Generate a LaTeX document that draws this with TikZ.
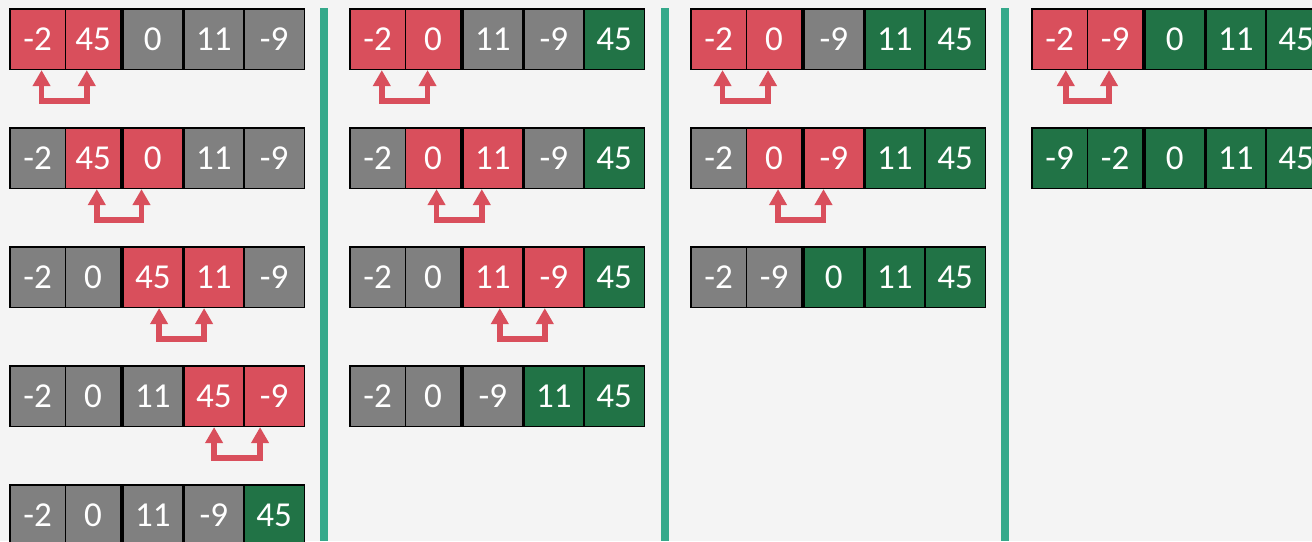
\documentclass[tikz,border=0pt]{standalone}
\usepackage{fontspec}
\setmainfont{Carlito}
\usetikzlibrary{arrows.meta}
\definecolor{cred}{HTML}{D94F5C}
\definecolor{cgray}{HTML}{808080}
\definecolor{cgreen}{HTML}{217346}
\definecolor{cteal}{HTML}{35A98B}
\definecolor{bg}{HTML}{F4F4F4}
\tikzset{
  cell/.style={draw=black, line width=1.6pt, inner sep=0pt, minimum height=60.5pt,
    text=white, font=\fontsize{35}{40}\selectfont, text height=22.4pt, text depth=0pt,
    anchor=north west},
  swaparrow/.style={draw=cred, line width=5.5pt,
    {Triangle[length=16pt,width=17pt]}-{Triangle[length=16pt,width=17pt]}},
  sepbar/.style={fill=cteal, draw=none}
}
\newcommand{\mkrow}[4]{%
  \foreach \cc/\tt [count=\i] in {#4} {
    \pgfmathsetmacro{\cellx}{{0,55.5,113,174,234}[\i-1]}
    \pgfmathsetmacro{\cellw}{{55.5,55.5,60,60,60.5}[\i-1]}
    \node[cell, fill=\cc, minimum width=\cellw pt] (#1-\i) at (#2+\cellx, #3) {\tt};
  }}
\newcommand{\swp}[4]{%
  \draw[swaparrow] ([xshift=#2pt]#1.south) -- ++(0,31) -| ([xshift=#4pt]#3.south);}
\begin{document}
\begin{tikzpicture}[x=1pt,y=-1pt]
  \useasboundingbox (0,0) rectangle (1312,541);
  \fill[bg] (0,0) rectangle (1312,541);
  % separators
  \fill[sepbar] (320,8) rectangle (328,541);
  \fill[sepbar] (661,8) rectangle (669,541);
  \fill[sepbar] (1001,8) rectangle (1009,541);
  % column 1
  \mkrow{a1}{9}{8}{cred/-2,cred/45,cgray/0,cgray/11,cgray/-9}
  \mkrow{a2}{9}{127}{cgray/-2,cred/45,cred/0,cgray/11,cgray/-9}
  \mkrow{a3}{9}{246}{cgray/-2,cgray/0,cred/45,cred/11,cgray/-9}
  \mkrow{a4}{9}{365}{cgray/-2,cgray/0,cgray/11,cred/45,cred/-9}
  \mkrow{a5}{9}{484}{cgray/-2,cgray/0,cgray/11,cgray/-9,cgreen/45}
  % column 2
  \mkrow{b1}{349}{8}{cred/-2,cred/0,cgray/11,cgray/-9,cgreen/45}
  \mkrow{b2}{349}{127}{cgray/-2,cred/0,cred/11,cgray/-9,cgreen/45}
  \mkrow{b3}{349}{246}{cgray/-2,cgray/0,cred/11,cred/-9,cgreen/45}
  \mkrow{b4}{349}{365}{cgray/-2,cgray/0,cgray/-9,cgreen/11,cgreen/45}
  % column 3
  \mkrow{c1}{690}{8}{cred/-2,cred/0,cgray/-9,cgreen/11,cgreen/45}
  \mkrow{c2}{690}{127}{cgray/-2,cred/0,cred/-9,cgreen/11,cgreen/45}
  \mkrow{c3}{690}{246}{cgray/-2,cgray/-9,cgreen/0,cgreen/11,cgreen/45}
  % column 4
  \mkrow{d1}{1031}{8}{cred/-2,cred/-9,cgreen/0,cgreen/11,cgreen/45}
  \mkrow{d2}{1031}{127}{cgreen/-9,cgreen/-2,cgreen/0,cgreen/11,cgreen/45}
  % swap arrows
  \swp{a1-1}{4}{a1-2}{-6.25}
  \swp{a2-2}{3.75}{a2-3}{-11.3}
  \swp{a3-3}{6.3}{a3-4}{-9.7}
  \swp{a4-4}{0.3}{a4-5}{-14}
  \swp{b1-1}{4.25}{b1-2}{-5.5}
  \swp{b2-2}{3.5}{b2-3}{-11}
  \swp{b3-3}{7}{b3-4}{-9}
  \swp{c1-1}{4}{c1-2}{-6}
  \swp{c2-2}{4}{c2-3}{-10.3}
  \swp{d1-1}{6.25}{d1-2}{-6}
\end{tikzpicture}
\end{document}
